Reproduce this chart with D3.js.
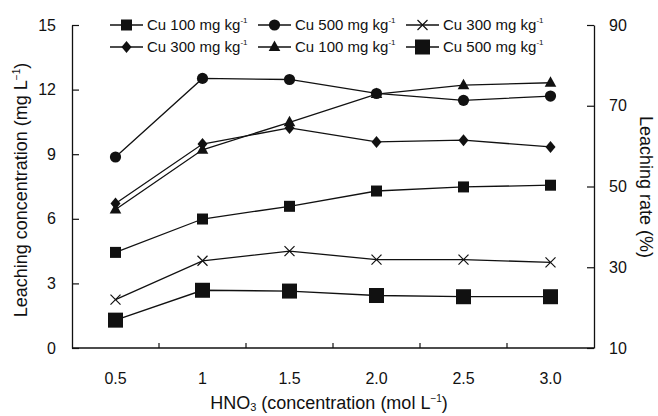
<!DOCTYPE html>
<html>
<head>
<meta charset="utf-8">
<script src="https://cdn.jsdelivr.net/npm/d3@7"></script>
<style>
  body { margin: 0; background: #fff; }
  svg { display: block; font-family: "Liberation Sans", Arial, sans-serif; }
</style>
</head>
<body>
<svg id="chart" width="658" height="416"></svg>
<script>
// HNO3 concentration categories
const categories = ["0.5", "1", "1.5", "2.0", "2.5", "3.0"];

// leaching concentration (mg L-1), left axis
const conc100 = [4.44, 5.99, 6.58, 7.29, 7.48, 7.56];
const conc300 = [6.71, 9.47, 10.22, 9.57, 9.65, 9.34];
const conc500 = [8.87, 12.52, 12.47, 11.82, 11.50, 11.70];

// leaching rate (%), right axis
const rate100 = [44.3, 59.1, 65.9, 72.9, 75.1, 75.7];
const rate300 = [22.0, 31.6, 34.0, 31.9, 31.9, 31.2];
const rate500 = [16.9, 24.3, 24.1, 23.0, 22.7, 22.7];

const leftTicks = [0, 3, 6, 9, 12, 15];
const rightTicks = [10, 30, 50, 70, 90];

const svg = d3.select("#chart");
const ink = "#111";

let x0 = 72, x1 = 594, yTop = 25, yBot = 348;

let x = d3.scaleBand().domain(categories).range([x0, x1]).paddingInner(0).paddingOuter(0);
let yL = d3.scaleLinear().domain([0, 15]).range([yBot, yTop]);
let yR = d3.scaleLinear().domain([10, 90]).range([yBot, yTop]);

// axes
let gL = svg.append("g").attr("transform", `translate(${x0},0)`)
  .call(d3.axisLeft(yL).tickValues(leftTicks).tickSizeInner(-7).tickSizeOuter(0).tickPadding(16));
let gR = svg.append("g").attr("transform", `translate(${x1},0)`)
  .call(d3.axisRight(yR).tickValues(rightTicks).tickSizeInner(-7).tickSizeOuter(0).tickPadding(15));
[gL, gR].forEach(g => {
  g.select(".domain").attr("stroke", ink).attr("stroke-width", 1.3);
  g.selectAll(".tick line").attr("stroke", ink).attr("stroke-width", 1.2);
  g.selectAll(".tick text").attr("fill", ink).style("font-size", "16px").style("font-family", "Liberation Sans, Arial, sans-serif");
});

// bottom axis: line, ticks between categories, labels at centres
let gB = svg.append("g");
gB.append("line").attr("x1", x0).attr("x2", x1).attr("y1", yBot).attr("y2", yBot)
  .attr("stroke", ink).attr("stroke-width", 1.3);
gB.selectAll(".bt").data(categories.slice(1)).join("line")
  .attr("x1", d => x(d)).attr("x2", d => x(d))
  .attr("y1", yBot).attr("y2", yBot - 5)
  .attr("stroke", ink).attr("stroke-width", 1.2);
gB.selectAll(".bl").data(categories).join("text")
  .attr("x", d => x(d) + x.bandwidth() / 2).attr("y", 384)
  .attr("text-anchor", "middle").attr("fill", ink).style("font-size", "16px")
  .text(d => d);

// axis titles
let tL = svg.append("text").attr("transform", "translate(27,190) rotate(-90)")
  .attr("text-anchor", "middle").attr("fill", ink).style("font-size", "18px");
tL.append("tspan").text("Leaching concentration (mg L");
tL.append("tspan").attr("dy", -7).style("font-size", "10px").text("\u22121");
tL.append("tspan").attr("dy", 7).text(")");

svg.append("text").attr("transform", "translate(640,187) rotate(90)")
  .attr("text-anchor", "middle").attr("fill", ink).style("font-size", "18px")
  .text("Leaching rate (%)");

let tB = svg.append("text").attr("x", 329).attr("y", 409)
  .attr("text-anchor", "middle").attr("fill", ink).style("font-size", "18px");
tB.append("tspan").text("HNO");
tB.append("tspan").attr("dy", 2).style("font-size", "11px").text("3");
tB.append("tspan").attr("dy", -2).text(" (concentration (mol L");
tB.append("tspan").attr("dy", -7).style("font-size", "10px").text("\u22121");
tB.append("tspan").attr("dy", 7).text(")");

// marker shapes
function drawMarker(g, type, cx, cy) {
  if (type === "square") {
    g.append("rect").attr("x", cx - 5.5).attr("y", cy - 5.5).attr("width", 11).attr("height", 11).attr("fill", ink);
  } else if (type === "bigsquare") {
    g.append("rect").attr("x", cx - 7.5).attr("y", cy - 7.5).attr("width", 15).attr("height", 15).attr("fill", ink);
  } else if (type === "circle") {
    g.append("circle").attr("cx", cx).attr("cy", cy).attr("r", 5.6).attr("fill", ink);
  } else if (type === "diamond") {
    g.append("path").attr("d", `M${cx},${cy - 6}L${cx + 5},${cy}L${cx},${cy + 6}L${cx - 5},${cy}Z`).attr("fill", ink);
  } else if (type === "triangle") {
    g.append("path").attr("d", `M${cx},${cy - 6.5}L${cx + 5.8},${cy + 4}L${cx - 5.8},${cy + 4}Z`).attr("fill", ink);
  } else if (type === "cross") {
    g.append("path").attr("d", `M${cx - 5},${cy - 5}L${cx + 5},${cy + 5}M${cx - 5},${cy + 5}L${cx + 5},${cy - 5}`)
      .attr("stroke", ink).attr("stroke-width", 1.2).attr("fill", "none");
  }
}

const series = [
  { name: "Cu 100 mg kg", values: conc100, y: yL, marker: "square" },
  { name: "Cu 500 mg kg", values: conc500, y: yL, marker: "circle" },
  { name: "Cu 300 mg kg", values: rate300, y: yR, marker: "cross" },
  { name: "Cu 300 mg kg", values: conc300, y: yL, marker: "diamond" },
  { name: "Cu 100 mg kg", values: rate100, y: yR, marker: "triangle" },
  { name: "Cu 500 mg kg", values: rate500, y: yR, marker: "bigsquare" }
];

let plot = svg.append("g");
series.forEach(s => {
  let line = d3.line()
    .x((d, i) => x(categories[i]) + x.bandwidth() / 2)
    .y(d => s.y(d));
  plot.append("path").datum(s.values).attr("d", line)
    .attr("fill", "none").attr("stroke", ink).attr("stroke-width", 1.3);
});
series.forEach(s => {
  let g = plot.append("g");
  s.values.forEach((v, i) => drawMarker(g, s.marker, x(categories[i]) + x.bandwidth() / 2, s.y(v)));
});

// legend, 3 columns x 2 rows
const legX = [110, 258, 406];
const legY = [25, 47];
series.forEach((s, i) => {
  let lx = legX[i % 3], ly = legY[Math.floor(i / 3)];
  let g = svg.append("g");
  g.append("line").attr("x1", lx).attr("x2", lx + 33).attr("y1", ly).attr("y2", ly)
    .attr("stroke", ink).attr("stroke-width", 1.3);
  drawMarker(g, s.marker, lx + 16.5, ly);
  let t = g.append("text").attr("x", lx + 37).attr("y", ly + 5)
    .attr("fill", ink).style("font-size", "15px");
  t.append("tspan").text(s.name);
  t.append("tspan").attr("dy", -7).style("font-size", "8px").text("-1");
});
</script>
</body>
</html>
